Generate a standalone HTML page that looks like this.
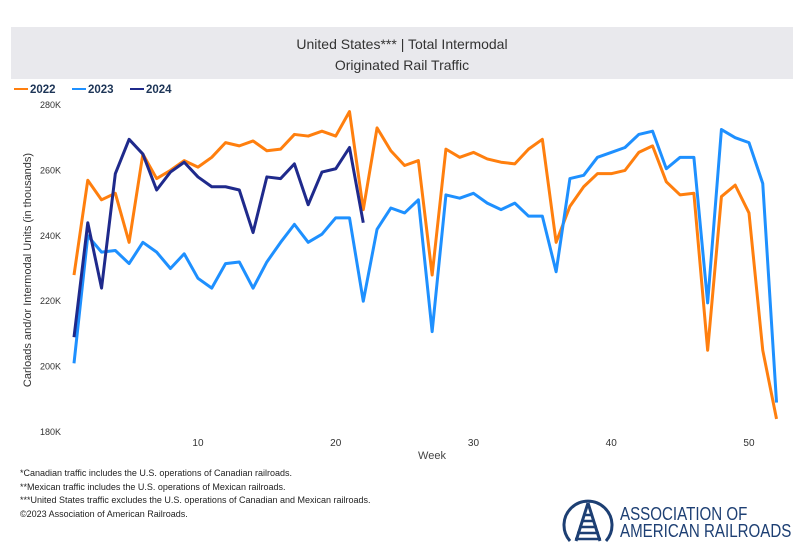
<!DOCTYPE html>
<html><head><meta charset="utf-8"><style>
body{margin:0;width:800px;height:546px;background:#fff;font-family:"Liberation Sans",sans-serif;overflow:hidden;position:relative}
.t{position:absolute}
</style></head><body>
<div class="t" style="left:11px;top:27px;width:782px;height:52px;background:#e9e9ed"></div>
<div class="t" style="left:11px;top:34px;width:782px;text-align:center;font-size:14px;color:#333;line-height:21px">United States*** | Total Intermodal<br>Originated Rail Traffic</div>
<svg class="t" style="left:0;top:0" width="800" height="546">
<g id="legend" font-size="11.5" font-weight="bold" fill="#1d3557"></g>
<g id="axes"></g>
<g id="series"></g>
<text x="432" y="459" font-size="11" fill="#444" text-anchor="middle">Week</text>
<text transform="translate(31,270) rotate(-90)" font-size="11" fill="#333" text-anchor="middle">Carloads and/or Intermodal Units (in thousands)</text>
</svg>
<div class="t" style="left:20px;top:467px;font-size:9px;color:#222;line-height:13.5px;white-space:nowrap">*Canadian traffic includes the U.S. operations of Canadian railroads.<br>**Mexican traffic includes the U.S. operations of Mexican railroads.<br>***United States traffic excludes the U.S. operations of Canadian and Mexican railroads.<br>©2023 Association of American Railroads.</div>
<svg class="t" style="left:558px;top:495px" width="60" height="50">
<path d="M12 46 A24 24 0 1 1 48 46" fill="none" stroke="#1d3f73" stroke-width="3"/>
<path d="M30 8 L18 46 M30 8 L42 46" stroke="#1d3f73" stroke-width="3" fill="none"/>
<g stroke="#1d3f73" stroke-width="2.5"><line x1="25" y1="20" x2="35" y2="20"/><line x1="23" y1="26" x2="37" y2="26"/><line x1="21" y1="32" x2="39" y2="32"/><line x1="19" y1="38" x2="41" y2="38"/><line x1="17" y1="44" x2="43" y2="44"/></g>
</svg>
<div class="t" style="left:620px;top:506px;font-size:18px;line-height:17px;color:#1d3f73;white-space:nowrap;transform:scaleX(0.84);transform-origin:left">ASSOCIATION OF<br>AMERICAN RAILROADS</div>
<script>
const weeks = Array.from({length:52},(_,i)=>i+1);
const s2022 = [228,257,251,253,238,265,257.5,260,263,261,264,268.5,267.5,269,266,266.5,271,270.5,272,270.5,278,248,273,266,261.5,263,228,266.5,264,265.5,263.5,262.5,262,266.5,269.5,238,249,255,259,259,260,265.5,267.5,256.5,252.5,253,205,252,255.5,247,205,184];
const s2023 = [201,240,235,235.5,231.5,238,235,230,234.5,227,224,231.5,232,224,232,238,243.5,238,240.5,245.5,245.5,220,242,248.5,247,251,210.7,252.5,251.5,253,250,248,250,246,246,229,257.5,258.5,264,265.5,267,271,272,260.5,264,264,219.5,272.5,270,268.5,256,189];
const s2024 = [209,244,224,259,269.5,265,254,259.5,262.5,258,255,255,254,241,258,257.5,262,249.5,259.5,260.5,267,244];
const yTicks = [180,200,220,240,260,280];
const xTicks = [10,20,30,40,50];
const seriesNames = ['2022','2023','2024'];
const colors = ['#ff7f0e','#1e90ff','#1f2a8c'];
const NS='http://www.w3.org/2000/svg';
const xs = w => 74 + (w-1)*(749-198)/40;
const ys = v => 432 - (v-180)*(432-105)/100;
const axes=document.getElementById('axes'), ser=document.getElementById('series'), leg=document.getElementById('legend');
yTicks.forEach(v=>{const t=document.createElementNS(NS,'text');t.setAttribute('x',61);t.setAttribute('y',ys(v)+3);t.setAttribute('text-anchor','end');t.setAttribute('font-size','9');t.setAttribute('fill','#333');t.textContent=v+'K';


axes.appendChild(t);});
xTicks.forEach(v=>{const t=document.createElementNS(NS,'text');t.setAttribute('x',xs(v));t.setAttribute('y',446);t.setAttribute('text-anchor','middle');t.setAttribute('font-size','10');t.setAttribute('fill','#333');t.textContent=v;


axes.appendChild(t);});
[s2022,s2023,s2024].forEach((s,i)=>{const p=document.createElementNS(NS,'polyline');
p.setAttribute('points',s.map((v,j)=>xs(weeks[j])+','+ys(v)).join(' '));
p.setAttribute('fill','none');p.setAttribute('stroke',colors[i]);p.setAttribute('stroke-width','3');p.setAttribute('stroke-linejoin','round');


ser.appendChild(p);});
let lx=14;
seriesNames.forEach((n,i)=>{const l=document.createElementNS(NS,'line');l.setAttribute('x1',lx);l.setAttribute('x2',lx+14);l.setAttribute('y1',89);l.setAttribute('y2',89);l.setAttribute('stroke',colors[i]);l.setAttribute('stroke-width','2');


leg.appendChild(l);
const t=document.createElementNS(NS,'text');t.setAttribute('x',lx+16);t.setAttribute('y',93);t.textContent=n;


leg.appendChild(t);lx+=58;});
</script>
</body></html>
